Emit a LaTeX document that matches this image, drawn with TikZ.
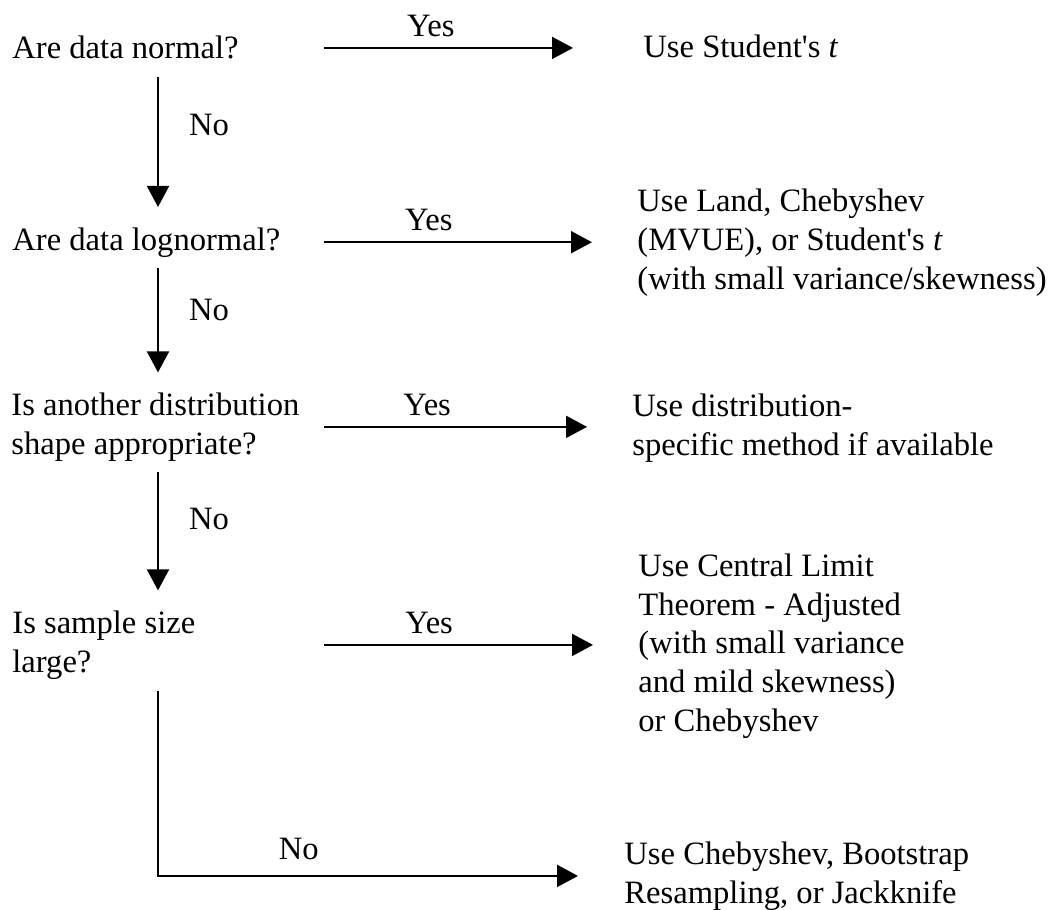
\documentclass[tikz,border=0pt]{standalone}
\usepackage{fontspec}
\setmainfont{Liberation Serif}
\usetikzlibrary{positioning,arrows.meta}

\begin{document}
\begin{tikzpicture}[
    x=0.5pt, y=-0.5pt,
    every node/.style={inner sep=0pt, font=\fontsize{16.3}{19.3}\selectfont},
    txt/.style={anchor=base west, align=left},
    arrow/.style={-{Triangle[length=10.5pt,width=11pt]}, line width=1pt},
    yes/.style={arrow, shorten >=22.5pt},
    down/.style={arrow, shorten <=5.5pt, shorten >=10pt}
  ]
  \useasboundingbox (0,0) rectangle (1052,909);

  % Left column: the questions (multi-line nodes sit on their last baseline)
  \node[txt] (normal) at (12,59) {Are data normal?};
  \node[txt] (lognormal) at (12,250) {Are data lognormal?};
  \node[txt] (other) at (11,454) {Is another distribution\\shape appropriate?};
  \node[txt] (large) at (12,672) {Is sample size\\large?};

  % Right column: what to use
  \node[txt] (student) at (643,58) {Use Student\textquotesingle s \textit{t}};
  \node[txt] (land) at (637,289) {Use Land, Chebyshev\\(MVUE), or Student\textquotesingle s \textit{t}\\(with small variance/skewness)};
  \node[txt] (specific) at (632,455) {Use distribution-\\specific method if available};
  \node[txt] (clt) at (638,731) {Use Central Limit\\Theorem - Adjusted\\(with small variance\\and mild skewness)\\or Chebyshev};
  \node[txt] (boot) at (624,903) {Use Chebyshev, Bootstrap\\Resampling, or Jackknife};

  % Relationships
  \coordinate (spine) at (158,0);
  \coordinate (from) at (324,0);

  \draw[yes, shorten >=35pt] (normal.east -| from) -- node[pos=.335, above=5pt] {Yes} (normal.east -| student.west);
  \draw[yes] (lognormal.east -| from) -- node[pos=.335, above=5pt] {Yes} (lognormal.east -| land.west);
  \draw[yes] (other.east -| from) -- node[pos=.335, above=5pt] {Yes} (other.east -| specific.west);
  \draw[yes] (large.east -| from) -- node[pos=.335, above=5pt] {Yes} (large.east -| clt.west);

  \draw[down, shorten <=8.5pt] (normal.south -| spine) -- node[pos=.39, right=15pt] {No} (lognormal.north -| spine);
  \draw[down] (lognormal.south -| spine) -- node[pos=.39, right=15pt] {No} (other.north -| spine);
  \draw[down] (other.south -| spine) -- node[pos=.39, right=15pt] {No} (large.north -| spine);
  \draw[arrow, shorten <=6pt, shorten >=23pt] (large.south -| spine) |- node[pos=.651, above=7.5pt] {No} (boot.west);

\end{tikzpicture}
\end{document}
